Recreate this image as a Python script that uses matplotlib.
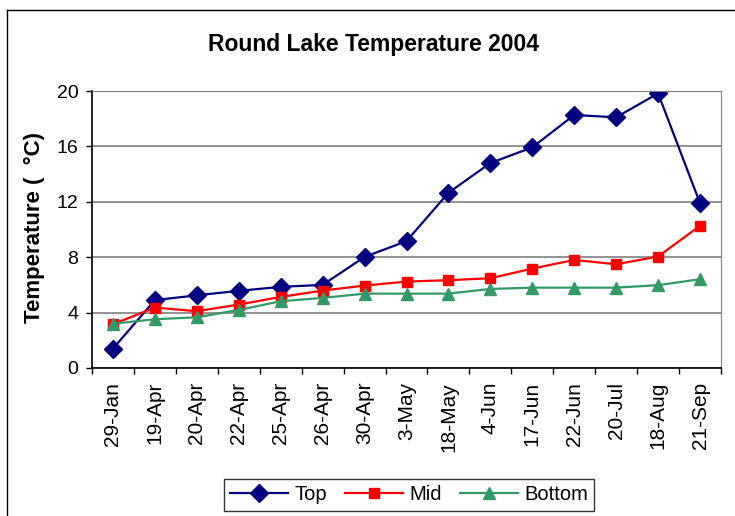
import matplotlib
matplotlib.use("Agg")
import matplotlib.pyplot as plt
from matplotlib.lines import Line2D
import numpy as np

plt.rcParams['font.family'] = ['Liberation Sans', 'DejaVu Sans']

dates = ['29-Jan', '19-Apr', '20-Apr', '22-Apr', '25-Apr', '26-Apr', '30-Apr', '3-May',
         '18-May', '4-Jun', '17-Jun', '22-Jun', '20-Jul', '18-Aug', '21-Sep']
top = [1.4, 4.9, 5.25, 5.57, 5.86, 6.0, 8.02, 9.16, 12.65, 14.8, 15.93, 18.27, 18.1, 19.83, 11.9]
mid = [3.16, 4.36, 4.1, 4.58, 5.13, 5.59, 5.95, 6.24, 6.34, 6.48, 7.18, 7.8, 7.49, 8.05, 10.27]
bottom = [3.2, 3.52, 3.66, 4.19, 4.82, 5.06, 5.37, 5.37, 5.37, 5.71, 5.8, 5.8, 5.8, 5.98, 6.41]

fig = plt.figure(figsize=(7.35, 5.16), dpi=100)
ax = fig.add_axes([92/735, 1-368/516, (721-92)/735, (368-91)/516])

x = np.arange(len(dates))
ax.plot(x, top, color='#000080', marker='D', markersize=9, lw=1.6, label='Top')
ax.plot(x, mid, color='#FF0000', marker='s', markersize=7.5, lw=1.6, label='Mid')
ax.plot(x, bottom, color='#339966', marker='^', markersize=9, lw=1.6, label='Bottom')

ax.set_xlim(-0.5, len(dates) - 0.5)
ax.set_ylim(0, 20)
ax.set_yticks([0, 4, 8, 12, 16, 20])
ax.yaxis.grid(True, color='#808080', lw=1.2)
ax.set_axisbelow(True)
# category ticks sit between the labels
ax.set_xticks(np.arange(len(dates) + 1) - 0.5)
ax.set_xticklabels([])
ax.set_xticks(x, minor=True)
ax.set_xticklabels(dates, minor=True, rotation=90, fontsize=15, va='top')
ax.tick_params(axis='x', which='minor', length=0, pad=10)
ax.tick_params(axis='x', which='major', direction='out', length=4.3, width=1)
ax.tick_params(axis='y', direction='out', length=4.3, width=1, labelsize=14, pad=5.5)

for side in ['top', 'right']:
    ax.spines[side].set_color('#808080')
for side in ['left', 'bottom']:
    ax.spines[side].set_color('black')
    ax.spines[side].set_linewidth(1.2)

fig.text(34/735, 1-323/516, 'Temperature (  \u00b0C)', rotation=90, ha='center', va='bottom',
         fontsize=16, fontweight='bold')
fig.text(374/735, 1-45/516, 'Round Lake Temperature 2004', ha='center', va='center',
         fontsize=16.5, fontweight='bold')

leg = fig.legend(loc='center', bbox_to_anchor=(409/735, 1-495/516), ncol=3, fontsize=14.5,
                 frameon=True, fancybox=False, edgecolor='black', handlelength=2.9,
                 columnspacing=0.9, handletextpad=0.3, borderpad=0.3, borderaxespad=0)
leg.get_frame().set_linewidth(1)

# chart frame: only left and top edges fall inside the picture
fig.add_artist(Line2D([7/735, 7/735], [0, 1-10/516], transform=fig.transFigure,
                      color='black', lw=1))
fig.add_artist(Line2D([7/735, 1], [1-10/516, 1-10/516], transform=fig.transFigure,
                      color='black', lw=1))

fig.savefig('out.png', dpi=100)
